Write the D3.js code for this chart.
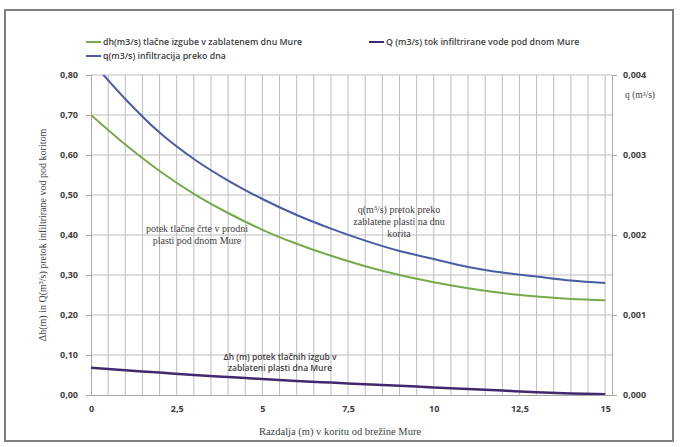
<!DOCTYPE html>
<html>
<head>
<meta charset="utf-8">
<script src="https://cdn.jsdelivr.net/npm/d3@7"></script>
<style>
  body { margin: 0; background: #fff; }
  text { fill: #404040; }
</style>
</head>
<body>
<script>
// podatki odčitani z grafa
const razdalja = [0, 1, 2, 3, 4, 5, 6, 7, 8, 9, 10, 11, 12, 13, 14, 15];
const dh = [0.70, 0.626, 0.56, 0.503, 0.455, 0.413, 0.378, 0.348, 0.322, 0.30, 0.282, 0.267, 0.255, 0.246, 0.24, 0.237];
const Q = [0.068, 0.062, 0.056, 0.050, 0.045, 0.040, 0.035, 0.031, 0.027, 0.023, 0.019, 0.015, 0.011, 0.007, 0.004, 0.002];
const q = [0.00418, 0.0037, 0.00328, 0.00295, 0.00268, 0.00245, 0.00225, 0.00208, 0.00193, 0.0018, 0.0017, 0.0016, 0.00153, 0.00148, 0.00143, 0.0014];
const xTicks = [0, 2.5, 5, 7.5, 10, 12.5, 15];
const leftTicks = [0, 0.1, 0.2, 0.3, 0.4, 0.5, 0.6, 0.7, 0.8];
const rightTicks = [0, 0.001, 0.002, 0.003, 0.004];

const W = 680, H = 447;
const svg = d3.select("body").append("svg")
  .attr("width", W).attr("height", H);

// okvir
svg.append("rect")
  .attr("x", 5).attr("y", 10).attr("width", 668).attr("height", 431)
  .attr("fill", "none").attr("stroke", "#7f7f7f").attr("stroke-width", 2);

const x = d3.scaleLinear().domain([0, 15.2]).range([91, 612]);
const yL = d3.scaleLinear().domain([0, 0.8]).range([395, 75]);
const yR = d3.scaleLinear().domain([0, 0.004]).range([395, 75]);

const comma = f => v => d3.format(f)(v).replace(".", ",");

// mreža
svg.append("g").selectAll("line")
  .data(d3.range(1, 31).map(i => i * 0.5))
  .join("line")
  .attr("x1", d => x(d)).attr("x2", d => x(d))
  .attr("y1", yL(0.8)).attr("y2", yL(0))
  .attr("stroke", "#bdbdbd").attr("stroke-width", 1);
svg.append("g").selectAll("line")
  .data(leftTicks.slice(1))
  .join("line")
  .attr("x1", x(0)).attr("x2", x.range()[1])
  .attr("y1", d => yL(d)).attr("y2", d => yL(d))
  .attr("stroke", "#bdbdbd").attr("stroke-width", 1);

// osi
const axL = svg.append("g").attr("transform", `translate(${x(0)},0)`)
  .call(d3.axisLeft(yL).tickValues(leftTicks).tickFormat(comma(".2f")).tickSize(5).tickPadding(8));
const axR = svg.append("g").attr("transform", `translate(${x.range()[1]},0)`)
  .call(d3.axisRight(yR).tickValues(rightTicks).tickFormat(comma(".3f")).tickSize(5).tickPadding(6));
const axB = svg.append("g").attr("transform", `translate(0,${yL(0)})`)
  .call(d3.axisBottom(x).tickValues(xTicks).tickFormat(d => String(d).replace(".", ",")).tickSize(0).tickPadding(11));

[axL, axR, axB].forEach(a => {
  a.select(".domain").attr("stroke", "#a6a6a6");
  a.selectAll(".tick line").attr("stroke", "#a6a6a6");
  a.selectAll("text")
    .attr("font-family", "'Open Sans', sans-serif")
    .attr("font-weight", 700)
    .attr("font-size", 9)
    .attr("fill", "#3a3a3a");
});

// krivulje
const line = arr => d3.line()
  .x((d, i) => x(razdalja[i]))
  .y(d => arr === q ? yR(d) : yL(d))
  .curve(d3.curveMonotoneX);

svg.append("clipPath").attr("id", "clip")
  .append("rect").attr("x", x(0)).attr("y", yL(0.8))
  .attr("width", x.range()[1] - x(0)).attr("height", yL(0) - yL(0.8));

const plot = svg.append("g").attr("clip-path", "url(#clip)");
plot.append("path").datum(dh).attr("d", line(dh))
  .attr("fill", "none").attr("stroke", "#77a94c").attr("stroke-width", 2);
plot.append("path").datum(q).attr("d", line(q))
  .attr("fill", "none").attr("stroke", "#4a5ca6").attr("stroke-width", 2);
plot.append("path").datum(Q).attr("d", line(Q))
  .attr("fill", "none").attr("stroke", "#42296f").attr("stroke-width", 2.5);

// legenda
const legend = [
  { label: "dh(m3/s) tlačne izgube v zablatenem dnu Mure", color: "#77a94c", lx: 86, ly: 42 },
  { label: "Q (m3/s) tok infiltrirane vode pod dnom Mure", color: "#42296f", lx: 369, ly: 42 },
  { label: "q(m3/s) infiltracija preko dna", color: "#4a5ca6", lx: 86, ly: 56 }
];
const lg = svg.append("g").selectAll("g").data(legend).join("g")
  .attr("transform", d => `translate(${d.lx},${d.ly})`);
lg.append("line").attr("x1", 0).attr("x2", 15).attr("y1", 0).attr("y2", 0)
  .attr("stroke", d => d.color).attr("stroke-width", 2);
lg.append("text").attr("x", 17).attr("y", 3)
  .attr("font-family", "'Open Sans', sans-serif").attr("font-weight", 600)
  .attr("font-size", 8.8).text(d => d.label);

// naslovi osi
svg.append("text")
  .attr("transform", "translate(46,235) rotate(-90)")
  .attr("text-anchor", "middle")
  .attr("font-family", "'Liberation Serif', serif").attr("font-size", 10)
  .text("Δh(m) in Q(m³/s) pretok infiltrirane vod pod koritom");
svg.append("text")
  .attr("x", 340).attr("y", 435).attr("text-anchor", "middle")
  .attr("font-family", "'Liberation Serif', serif").attr("font-size", 10.5)
  .text("Razdalja (m) v koritu od brežine Mure");
svg.append("text")
  .attr("x", 625).attr("y", 98)
  .attr("font-family", "'Liberation Serif', serif").attr("font-size", 9.5)
  .text("q (m³/s)");

// opombe v grafu
const note = (cx, cy, lines, serif, size) => {
  const t = svg.append("text").attr("text-anchor", "middle")
    .attr("font-family", serif ? "'Liberation Serif', serif" : "'Open Sans', sans-serif")
    .attr("font-weight", serif ? 400 : 600)
    .attr("font-size", size).attr("fill", "#222");
  lines.forEach((l, i) => t.append("tspan").attr("x", cx).attr("y", cy + i * (size + 2)).text(l));
};
note(197, 232, ["potek tlačne črte v prodni", "plasti pod dnom Mure"], true, 10);
note(399, 213, ["q(m³/s) pretok preko", "zablatene plasti na dnu", "korita"], true, 10);
note(280, 360, ["Δh (m) potek tlačnih izgub v", "zablateni plasti dna Mure"], false, 8.5);
</script>
</body>
</html>
